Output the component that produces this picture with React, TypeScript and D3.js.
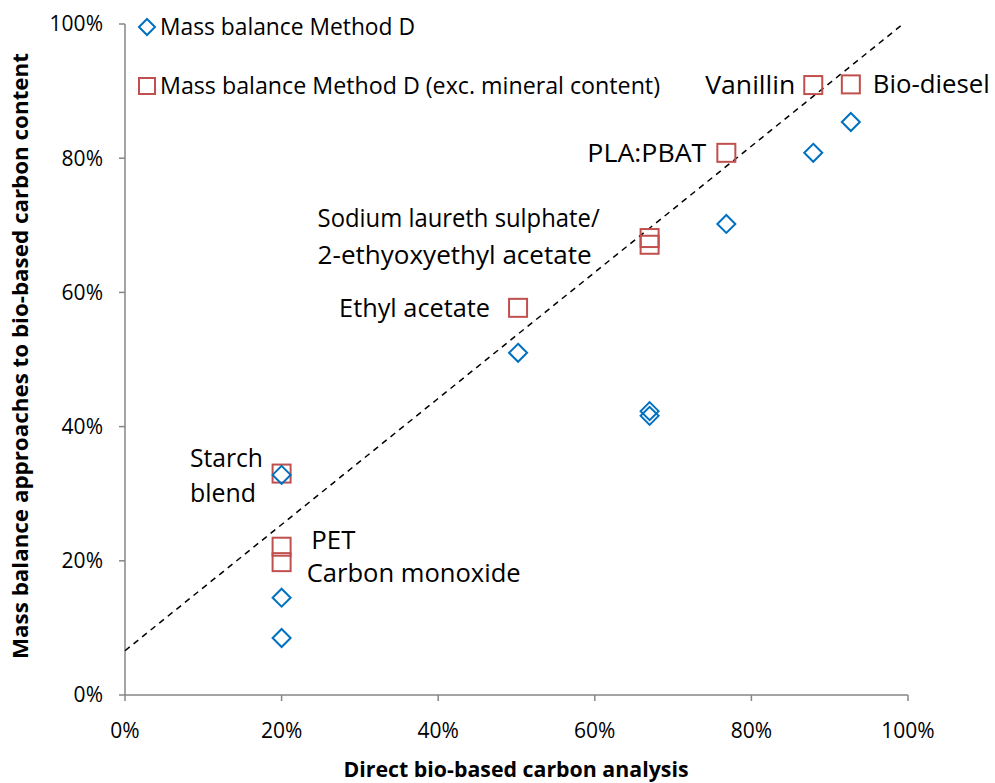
import React from "react";
import * as d3 from "d3";

const methodDX = [20, 20, 20, 50.2, 67, 67, 76.8, 87.9, 92.7];
const methodDY = [32.8, 14.5, 8.5, 51, 42.3, 41.6, 70.2, 80.8, 85.4];
const excMinX = [20, 20, 20, 50.2, 67, 67, 76.8, 87.9, 92.7];
const excMinY = [33, 22.1, 19.8, 57.7, 68.1, 67.1, 80.8, 90.9, 91];
const trendIntercept = 6.6;
const trendSlope = 0.94;
const xTicks = [0, 20, 40, 60, 80, 100];
const yTicks = [0, 20, 40, 60, 80, 100];
const legendLabels = ["Mass balance Method D", "Mass balance Method D (exc. mineral content)"];
const pointLabels = [
  { text: "Vanillin", x: 87.9, y: 90.9, anchor: "end", dx: -18, w: 90 },
  { text: "Bio-diesel", x: 92.7, y: 91, anchor: "start", dx: 22, w: 117 },
  { text: "PLA:PBAT", x: 76.8, y: 80.8, anchor: "end", dx: -20, w: 119 },
  { text: "Sodium laureth sulphate/", x: 24.6, y: 71.1, anchor: "start", dx: 0, w: 282 },
  { text: "2-ethyoxyethyl acetate", x: 24.6, y: 65.6, anchor: "start", dx: 0, w: 274 },
  { text: "Ethyl acetate", x: 50.2, y: 57.7, anchor: "end", dx: -28, w: 151 },
  { text: "Starch", x: 8.3, y: 35.3, anchor: "start", dx: 0, w: 73 },
  { text: "blend", x: 8.3, y: 30, anchor: "start", dx: 0, w: 66 },
  { text: "PET", x: 23.8, y: 23, anchor: "start", dx: 0, w: 44 },
  { text: "Carbon monoxide", x: 23.2, y: 18.2, anchor: "start", dx: 0, w: 214 },
];

const BLUE = "#0070C0";
const RED = "#C0504D";
const AXIS = "#868686";
const FONT = "'Open Sans', Lato, sans-serif";

export default function App() {
  const W = 995, H = 783;
  const left = 125, right = 908, top = 24, bottom = 695;
  const x = d3.scaleLinear().domain([0, 100]).range([left, right]);
  const y = d3.scaleLinear().domain([0, 100]).range([bottom, top]);
  const xEnd = (100 - trendIntercept) / trendSlope;
  const diamond = (cx: number, cy: number, r = 9) =>
    `M${cx},${cy - r}L${cx + r},${cy}L${cx},${cy + r}L${cx - r},${cy}Z`;
  const sq = 18;
  return (
    <svg width={W} height={H} style={{ position: "absolute", left: 0, top: 0, background: "#fff" }} fontFamily={FONT}>
      <rect width={W} height={H} fill="#fff" />
      {/* axes */}
      <line x1={left} x2={left} y1={top} y2={bottom} stroke={AXIS} strokeWidth={1.5} />
      <line x1={left} x2={right} y1={bottom} y2={bottom} stroke={AXIS} strokeWidth={1.5} />
      {yTicks.map((t) => (
        <g key={"y" + t}>
          <line x1={left - 6} x2={left} y1={y(t)} y2={y(t)} stroke={AXIS} strokeWidth={1.5} />
          <text x={103} y={y(t)} dy="0.35em" textAnchor="end" fontSize={21} fill="#000">{t}%</text>
        </g>
      ))}
      {xTicks.map((t) => (
        <g key={"x" + t}>
          <line x1={x(t)} x2={x(t)} y1={bottom} y2={bottom + 6} stroke={AXIS} strokeWidth={1.5} />
          <text x={x(t)} y={731} dy="0.35em" textAnchor="middle" fontSize={21} fill="#000">{t}%</text>
        </g>
      ))}
      <text x={516} y={770} dy="0.35em" textAnchor="middle" fontSize={20.5} fontWeight="bold" fill="#000" textLength={345} lengthAdjust="spacingAndGlyphs">
        Direct bio-based carbon analysis
      </text>
      <text transform={`translate(20,356) rotate(-90)`} dy="0.35em" textAnchor="middle" fontSize={21.5} fontWeight="bold" fill="#000" textLength={606} lengthAdjust="spacingAndGlyphs">
        Mass balance approaches to bio-based carbon content
      </text>
      {/* trend line */}
      <line x1={x(0)} y1={y(trendIntercept)} x2={x(xEnd)} y2={y(100)} stroke="#000" strokeWidth={1.5} strokeDasharray="6,5" />
      {/* series */}
      {excMinX.map((v, i) => (
        <rect key={"r" + i} x={x(v) - sq / 2} y={y(excMinY[i]) - sq / 2} width={sq} height={sq} fill="none" stroke={RED} strokeWidth={2} />
      ))}
      {methodDX.map((v, i) => (
        <path key={"d" + i} d={diamond(x(v), y(methodDY[i]))} fill="none" stroke={BLUE} strokeWidth={2} />
      ))}
      {/* labels */}
      {pointLabels.map((l, i) => (
        <text key={"l" + i} x={x(l.x) + l.dx} y={y(l.y)} dy="0.35em" textAnchor={l.anchor as any} fontSize={25} fill="#000" textLength={l.w} lengthAdjust="spacingAndGlyphs">
          {l.text}
        </text>
      ))}
      {/* legend */}
      <path d={diamond(147, 27, 8)} fill="none" stroke={BLUE} strokeWidth={2} />
      <text x={160} y={27} dy="0.35em" fontSize={23} fill="#000" textLength={255} lengthAdjust="spacingAndGlyphs">{legendLabels[0]}</text>
      <rect x={139} y={78} width={16} height={16} fill="none" stroke={RED} strokeWidth={2} />
      <text x={160} y={86} dy="0.35em" fontSize={23} fill="#000" textLength={500} lengthAdjust="spacingAndGlyphs">{legendLabels[1]}</text>
    </svg>
  );
}
